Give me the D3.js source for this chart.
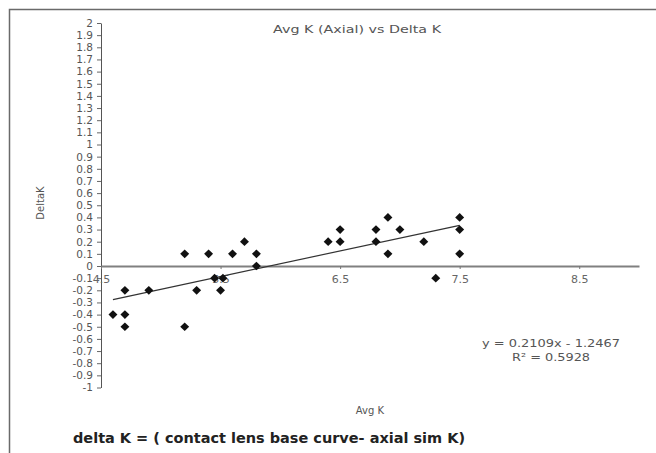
<!DOCTYPE html>
<html>
<head>
<meta charset="utf-8">
<script src="https://cdn.jsdelivr.net/npm/d3@7"></script>
<style>
  html, body { margin: 0; padding: 0; background: #fff; }
  text { font-family: "DejaVu Sans", Arial, sans-serif; }
</style>
</head>
<body>
<div id="js_chart"></div>
<script>
// data
const avgK   = [4.6, 4.7, 4.7, 4.7, 4.9, 5.2, 5.2, 5.3, 5.45, 5.52, 5.5, 5.4, 5.6, 5.7, 5.8, 5.8,
                6.4, 6.5, 6.5, 6.8, 6.8, 6.9, 6.9, 7.0, 7.2, 7.3, 7.5, 7.5, 7.5];
const deltaK = [-0.4, -0.4, -0.5, -0.2, -0.2, 0.1, -0.5, -0.2, -0.1, -0.1, -0.2, 0.1, 0.1, 0.2, 0.1, 0.0,
                0.2, 0.2, 0.3, 0.3, 0.2, 0.4, 0.1, 0.3, 0.2, -0.1, 0.4, 0.3, 0.1];
const trendSlope = 0.2109;
const trendIntercept = -1.2467;
const rSquared = 0.5928;
const xTicks = [4.5, 5.5, 6.5, 7.5, 8.5];
const yTicks = d3.range(-10, 21).map(function (i) { return i / 10; });

const chartTitle = "Avg K (Axial) vs Delta K";
const xTitle = "Avg K";
const yTitle = "DeltaK";
const caption = "delta K = ( contact lens base curve- axial sim K)";

function createPlot() {
    let width = 656, height = 453;

    let x = d3.scaleLinear().domain([4.5, 9]).range([101, 639]);
    let y = d3.scaleLinear().domain([-1, 2]).range([387.5, 23]);

    let svg = d3.select("#js_chart")
        .append("svg")
        .attr("width", width)
        .attr("height", height);

    // frame (top and left edges only)
    svg.append("path")
        .attr("d", "M9.5," + height + "V9.5H" + width)
        .attr("fill", "none")
        .attr("stroke", "#6a6a6a")
        .attr("stroke-width", 1.5);

    // y axis
    let yAxis = svg.append("g")
        .attr("transform", "translate(" + x(4.5) + ",0)")
        .call(d3.axisLeft(y)
            .tickValues(yTicks)
            .tickSize(4)
            .tickSizeOuter(0)
            .tickPadding(4)
            .tickFormat(function (d) { return String(+d.toFixed(1)); }));
    yAxis.select(".domain").attr("stroke", "#555");
    yAxis.selectAll(".tick line").attr("stroke", "#666");
    yAxis.selectAll("text")
        .attr("font-size", 10.5)
        .attr("fill", "#555")
        .attr("font-family", "DejaVu Sans");

    // x axis along y = 0
    let xAxis = svg.append("g")
        .attr("transform", "translate(0," + y(0) + ")")
        .call(d3.axisBottom(x)
            .tickValues(xTicks)
            .tickSize(3)
            .tickSizeOuter(0)
            .tickPadding(6)
            .tickFormat(d3.format(".1f")));
    xAxis.select(".domain").attr("stroke", "#808080").attr("stroke-width", 2);
    xAxis.selectAll(".tick line").attr("stroke", "#777");
    xAxis.selectAll("text")
        .attr("font-size", 11)
        .attr("fill", "#666")
        .attr("font-family", "DejaVu Sans");

    // trend line
    let tx = d3.extent(avgK);
    svg.append("line")
        .attr("x1", x(tx[0])).attr("y1", y(trendSlope * tx[0] + trendIntercept))
        .attr("x2", x(tx[1])).attr("y2", y(trendSlope * tx[1] + trendIntercept))
        .attr("stroke", "#333")
        .attr("stroke-width", 1.2);

    // points (squat diamonds, as the blurred markers look)
    let pts = avgK.map(function (v, i) { return {x: v, y: deltaK[i]}; });
    svg.append("g").selectAll("path")
        .data(pts)
        .enter().append("path")
        .attr("transform", function (d) {
            return "translate(" + x(d.x) + "," + y(d.y) + ") scale(1.7,0.95)";
        })
        .attr("d", d3.symbol().type(d3.symbolDiamond).size(24))
        .attr("fill", "#111");

    // titles
    svg.append("text")
        .attr("x", 357).attr("y", 33)
        .attr("text-anchor", "middle")
        .attr("font-size", 11)
        .attr("fill", "#555")
        .attr("textLength", 168)
        .attr("lengthAdjust", "spacingAndGlyphs")
        .text(chartTitle);

    svg.append("text")
        .attr("transform", "translate(44,203) rotate(-90)")
        .attr("text-anchor", "middle")
        .attr("font-size", 10)
        .attr("fill", "#555")
        .text(yTitle);

    svg.append("text")
        .attr("x", 370).attr("y", 414)
        .attr("text-anchor", "middle")
        .attr("font-size", 10)
        .attr("fill", "#555")
        .text(xTitle);

    // regression equation
    svg.append("text")
        .attr("x", 551).attr("y", 347)
        .attr("text-anchor", "middle")
        .attr("font-size", 10.5)
        .attr("fill", "#555")
        .attr("textLength", 138)
        .attr("lengthAdjust", "spacingAndGlyphs")
        .text("y = " + trendSlope + "x - " + Math.abs(trendIntercept));
    svg.append("text")
        .attr("x", 551).attr("y", 361)
        .attr("text-anchor", "middle")
        .attr("font-size", 10.5)
        .attr("fill", "#555")
        .attr("textLength", 78)
        .attr("lengthAdjust", "spacingAndGlyphs")
        .text("R\u00b2 = " + rSquared);

    // caption below the chart
    svg.append("text")
        .attr("x", 73).attr("y", 443)
        .attr("font-size", 14)
        .attr("font-weight", "bold")
        .attr("fill", "#222")
        .attr("textLength", 392)
        .attr("lengthAdjust", "spacingAndGlyphs")
        .text(caption);
}

createPlot();
</script>
</body>
</html>
